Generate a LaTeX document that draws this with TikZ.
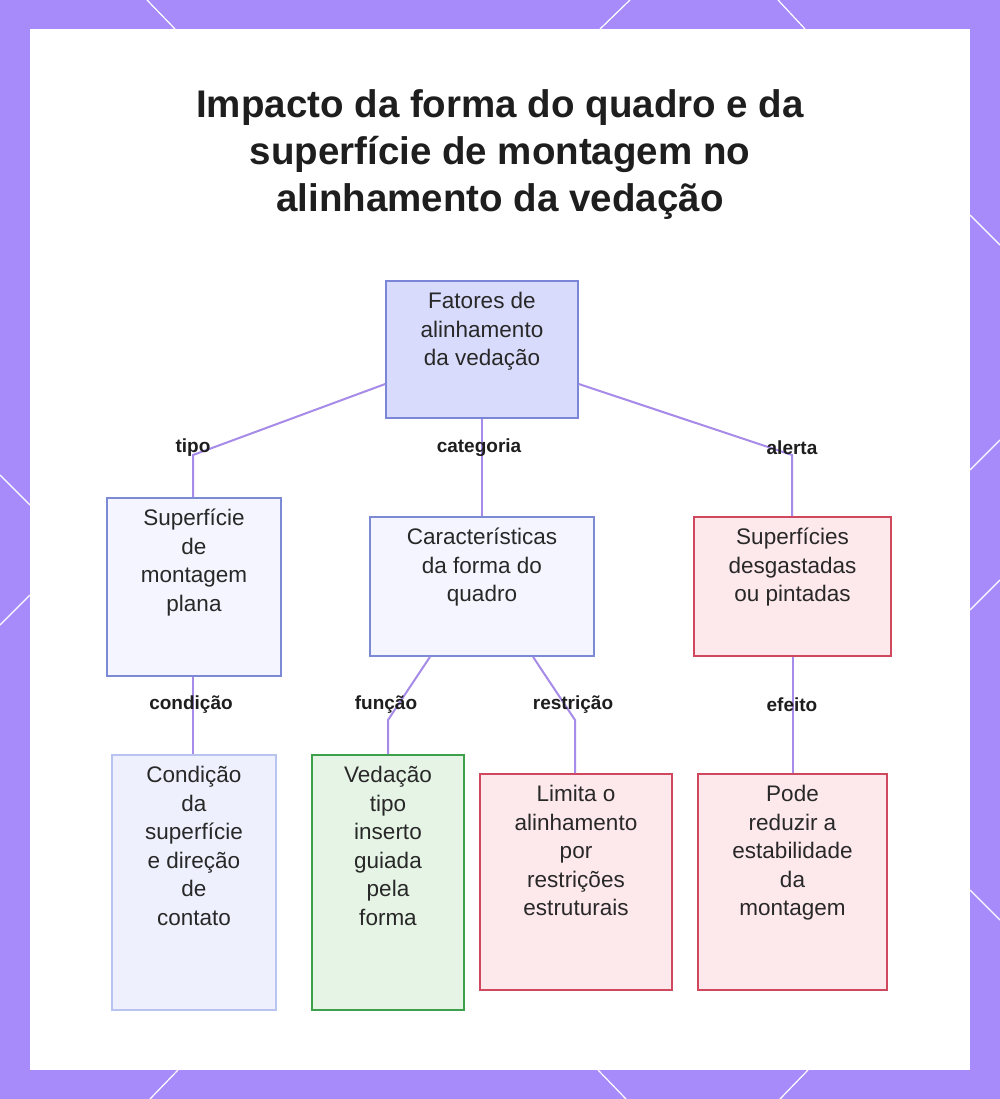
\documentclass[tikz,border=0pt]{standalone}
\usepackage{fontspec}
\setmainfont{Liberation Sans}
\begin{document}
\begin{tikzpicture}[x=1pt,y=-1pt,
  box/.style={draw,line width=1.6pt,inner sep=0pt},
  blue/.style={box,draw={rgb,255:red,124;green,138;blue,214},fill={rgb,255:red,244;green,245;blue,254}},
  top/.style={box,draw={rgb,255:red,124;green,134;blue,214},fill={rgb,255:red,216;green,219;blue,251}},
  pale/.style={box,draw={rgb,255:red,185;green,195;blue,240},fill={rgb,255:red,238;green,240;blue,253}},
  green/.style={box,draw={rgb,255:red,61;green,160;blue,74},fill={rgb,255:red,230;green,244;blue,230}},
  red/.style={box,draw={rgb,255:red,208;green,72;blue,94},fill={rgb,255:red,253;green,232;blue,236}},
  txt/.style={anchor=north,align=center,font=\fontsize{22.5}{28.5}\selectfont,text={rgb,255:red,40;green,40;blue,40},inner sep=0pt},
  lbl/.style={font=\bfseries\fontsize{19}{20}\selectfont,text={rgb,255:red,30;green,30;blue,30},inner sep=0pt},
  edge/.style={draw={rgb,255:red,166;green,139;blue,232},line width=2pt},
  deco/.style={draw=white,line width=1.2pt}]
\useasboundingbox (0,0) rectangle (1000,1099);
\fill[fill={rgb,255:red,167;green,139;blue,250}] (0,0) rectangle (1000,1099);
\fill[white] (30,29) rectangle (970,1070);
\draw[deco] (147,0)--(175,29) (600,29)--(630,0) (778,0)--(805,29)
  (970,215)--(1000,245) (970,470)--(1000,440) (970,610)--(1000,580)
  (0,475)--(30,505) (0,625)--(30,595) (970,890)--(1000,920)
  (150,1099)--(178,1070) (598,1070)--(626,1099) (780,1099)--(808,1070);
\node[align=center,font=\bfseries\fontsize{38.5}{47}\selectfont,text={rgb,255:red,30;green,30;blue,30}] (title) at (500,155) {Impacto da forma do quadro e da\\superfície de montagem no\\alinhamento da vedação};
% boxes
\node[top,minimum width=192,minimum height=137] (a) at (482,349.5) {};
\node[blue,minimum width=174,minimum height=178] (b) at (194,587) {};
\node[blue,minimum width=224,minimum height=139] (c) at (482,586.5) {};
\node[red,minimum width=197,minimum height=139] (d) at (792.5,586.5) {};
\node[pale,minimum width=164,minimum height=255] (e) at (194,882.5) {};
\node[green,minimum width=152,minimum height=255] (f) at (388,882.5) {};
\node[red,minimum width=192,minimum height=216] (g) at (576,882) {};
\node[red,minimum width=189,minimum height=216] (h) at (792.5,882) {};
\node[txt] (ta) at ([yshift=-12]a.north) {Fatores de\\alinhamento\\da vedação};
\node[txt] (tb) at ([yshift=-12]b.north) {Superfície\\de\\montagem\\plana};
\node[txt] (tc) at ([yshift=-12]c.north) {Características\\da forma do\\quadro};
\node[txt] (td) at ([yshift=-12]d.north) {Superfícies\\desgastadas\\ou pintadas};
\node[txt] (te) at ([yshift=-12]e.north) {Condição\\da\\superfície\\e direção\\de\\contato};
\node[txt] (tf) at ([yshift=-12]f.north) {Vedação\\tipo\\inserto\\guiada\\pela\\forma};
\node[txt] (tg) at ([yshift=-12]g.north) {Limita o\\alinhamento\\por\\restrições\\estruturais};
\node[txt] (th) at ([yshift=-12]h.north) {Pode\\reduzir a\\estabilidade\\da\\montagem};
% edges
\coordinate (p1) at (193,455);
\coordinate (p2) at (792,455);
\coordinate (p3) at (388,720);
\coordinate (p4) at (575,720);
\draw[edge] (a.west|-0,384) -- (p1) -- (b.north-|p1);
\draw[edge] (a.south) -- (c.north);
\draw[edge] (a.east|-0,384) -- (p2) -- (d.north-|p2);
\draw[edge] (b.south-|193,0) -- (e.north-|193,0);
\draw[edge] (c.south-|430,0) -- (p3) -- (f.north-|p3);
\draw[edge] (c.south-|533,0) -- (p4) -- (g.north-|p4);
\draw[edge] (d.south) -- (h.north);
\node[lbl] (l1) at (193,448) {tipo};
\node[lbl] (l2) at (479,448) {categoria};
\node[lbl] (l3) at (792,448) {alerta};
\node[lbl] (l4) at (191,705) {condição};
\node[lbl] (l5) at (386,705) {função};
\node[lbl] (l6) at (573,705) {restrição};
\node[lbl] (l7) at (792,705) {efeito};
\end{tikzpicture}
\end{document}
